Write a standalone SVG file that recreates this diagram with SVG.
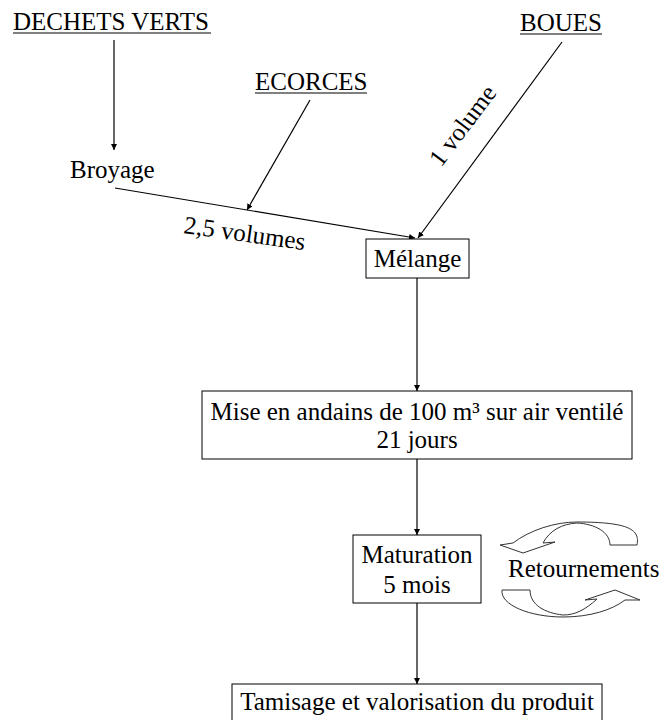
<svg xmlns="http://www.w3.org/2000/svg" width="661" height="720" viewBox="0 0 661 720" font-family="Liberation Serif, Times New Roman, DejaVu Serif, serif">
<style>
text{font-family:'Liberation Serif','DejaVu Serif',serif;font-size:25px;fill:#000}
.box{fill:#fff;stroke:#000;stroke-width:1}
.ln{stroke:#000;stroke-width:1.2;fill:none}
.ul{stroke:#000;stroke-width:1}
.curv{fill:#fff;stroke:#333;stroke-width:1}
</style>
<defs>
<marker id="ah" viewBox="0 0 10 10" refX="10" refY="5" markerWidth="6" markerHeight="6" markerUnits="userSpaceOnUse" orient="auto">
<path d="M0,0 L10,5 L0,10 z" fill="#000"/>
</marker>
</defs>
<rect width="661" height="720" fill="#fff"/>
<g id="connectors">
<line class="ln" x1="114" y1="40" x2="114" y2="150" marker-end="url(#ah)"/>
<line class="ln" x1="310" y1="100" x2="247" y2="210" marker-end="url(#ah)"/>
<line class="ln" x1="115" y1="188" x2="415" y2="238" marker-end="url(#ah)"/>
<line class="ln" x1="562" y1="42" x2="418" y2="238" marker-end="url(#ah)"/>
<line class="ln" x1="417" y1="278" x2="417" y2="391" marker-end="url(#ah)"/>
<line class="ln" x1="417" y1="459" x2="417" y2="535" marker-end="url(#ah)"/>
<line class="ln" x1="417" y1="603" x2="417" y2="684" marker-end="url(#ah)"/>
<text x="183" y="233" transform="rotate(8 183 233)">2,5 volumes</text>
<text x="441" y="168" transform="rotate(-53 441 168)">1 volume</text>
</g>
<g id="dechets">
<text x="13" y="30">DECHETS VERTS</text>
<line class="ul" x1="13" y1="33" x2="211" y2="33"/>
</g>
<g id="ecorces">
<text x="255" y="90">ECORCES</text>
<line class="ul" x1="255" y1="93" x2="367" y2="93"/>
</g>
<g id="boues">
<text x="520" y="31">BOUES</text>
<line class="ul" x1="520" y1="34" x2="602" y2="34"/>
</g>
<g id="broyage">
<text x="70" y="178">Broyage</text>
</g>
<g id="melange">
<rect class="box" x="366" y="239" width="103" height="39"/>
<text x="417.5" y="267" text-anchor="middle">Mélange</text>
</g>
<g id="andains">
<rect class="box" x="202" y="391" width="430" height="68"/>
<text x="417" y="420" text-anchor="middle">Mise en andains de 100 m³ sur air ventilé</text>
<text x="417" y="448" text-anchor="middle">21 jours</text>
</g>
<g id="maturation">
<rect class="box" x="353" y="535" width="128" height="68"/>
<text x="417" y="563" text-anchor="middle">Maturation</text>
<text x="417" y="593" text-anchor="middle">5 mois</text>
</g>
<g id="retournements">
<path class="curv" d="M637,545 C640,530 630,522 577,522 C555,522 530,530 513,543 L500,545 L523,553 L555,542 L543,543 C550,530 562,524 577,523 C595,524 610,532 610,545 Z"/>
<text x="508" y="577">Retournements</text>
<path class="curv" d="M502,590 C500,605 530,617 563,617 C590,617 612,610 625,600 L640,600 L615,590 L585,600 L597,599 C585,610 575,615 563,615 C545,613 530,605 530,590 Z"/>
</g>
<g id="tamisage">
<rect class="box" x="232" y="684" width="370" height="50"/>
<text x="417" y="710" text-anchor="middle">Tamisage et valorisation du produit</text>
</g>
</svg>
